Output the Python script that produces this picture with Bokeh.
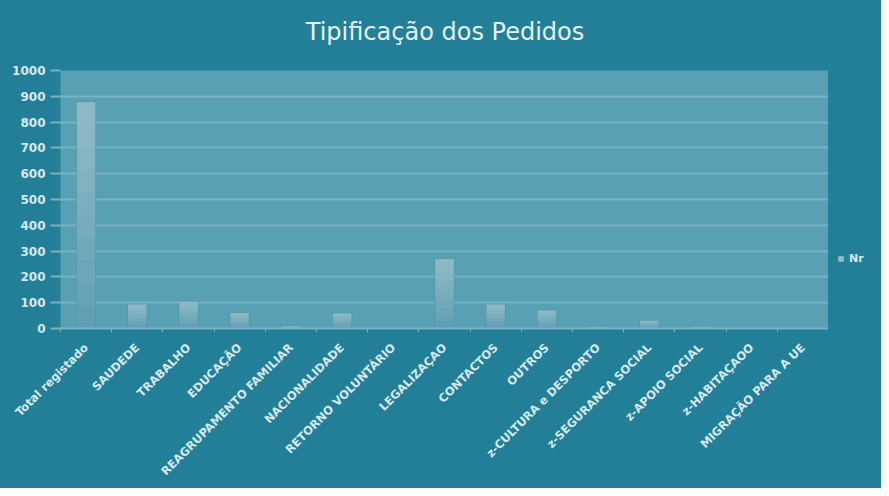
from bokeh.plotting import figure
from bokeh.layouts import row, column
from bokeh.models import Range1d, FixedTicker, Legend, LegendItem, ColumnDataSource, Label
from bokeh.embed import file_html
from bokeh.resources import INLINE

title_text = "Tipificação dos Pedidos"
categories = ["Total registado", "SAUDEDE", "TRABALHO", "EDUCAÇÃO", "REAGRUPAMENTO FAMILIAR",
              "NACIONALIDADE", "RETORNO VOLUNTÁRIO", "LEGALIZAÇAO", "CONTACTOS", "OUTROS",
              "z-CULTURA e DESPORTO", "z-SEGURANCA SOCIAL", "z-APOIO SOCIAL", "z-HABITAÇAOO",
              "MIGRAÇÃO PARA A UE"]
values = [878, 94, 105, 61, 10, 59, 0, 269, 94, 71, 8, 31, 8, 0, 0]
y_ticks = [0, 100, 200, 300, 400, 500, 600, 700, 800, 900, 1000]
series_name = "Nr"

OUTER = "#237f97"
PLOT_BG = "#58a0b3"
GRID = "#77b3c3"
TXT = "#d6e9ee"
BAR = "#5b9db0"
BAR_LINE = "#4f91a5"
FONT = "DejaVu Sans"

n = len(categories)
centers = [i + 0.5 for i in range(n)]
bounds = [float(i) for i in range(n + 1)]


def bare(fig):
    fig.background_fill_color = OUTER
    fig.border_fill_color = OUTER
    fig.outline_line_color = None
    fig.xgrid.visible = False
    fig.ygrid.visible = False


# title strip
t = figure(width=881, height=62, output_backend="svg", toolbar_location=None,
           x_range=Range1d(0, 1), y_range=Range1d(0, 1),
           x_axis_location=None, y_axis_location=None, min_border=0)
bare(t)
t.add_layout(Label(x=0.5, y=0.5, x_offset=4, y_offset=0, text=title_text,
                   text_align="center", text_baseline="middle",
                   text_font=FONT, text_font_size="24px", text_color="#e6f1f4"))

# main chart
p = figure(frame_width=768, frame_height=258, output_backend="svg", toolbar_location=None,
           x_range=Range1d(0, n), y_range=Range1d(0, 1000),
           min_border_left=60, min_border_right=0, min_border_top=8, min_border_bottom=160)
p.background_fill_color = PLOT_BG
p.border_fill_color = OUTER
p.outline_line_color = None

src = ColumnDataSource(dict(x=centers, top=values))
p.vbar(x="x", top="top", width=0.37, source=src, fill_color=BAR,
       line_color=BAR_LINE, line_alpha=0.6)
layers = 10
for i in range(layers):
    frac = i / layers
    p.vbar(x=centers, bottom=[v * frac for v in values], top=values, width=0.37,
           fill_color="white", fill_alpha=0.04, line_color=None)

xa = p.xaxis[0]
xa.ticker = FixedTicker(ticks=centers, minor_ticks=bounds)
xa.major_label_overrides = {c: lab for c, lab in zip(centers, categories)}
xa.major_label_orientation = 0.785398
xa.major_tick_line_color = None
xa.minor_tick_line_color = GRID
xa.minor_tick_in = 0
xa.minor_tick_out = 4
xa.axis_line_color = GRID
xa.axis_line_width = 2
xa.major_label_text_color = TXT
xa.major_label_text_font = FONT
xa.major_label_text_font_size = "11.5px"
xa.major_label_text_font_style = "bold"
xa.major_label_standoff = 11

ya = p.yaxis[0]
ya.ticker = FixedTicker(ticks=y_ticks, minor_ticks=[])
ya.axis_line_color = None
ya.major_tick_line_color = GRID
ya.major_tick_line_width = 2
ya.major_tick_in = 0
ya.major_tick_out = 10
ya.major_label_standoff = 5
ya.major_label_text_color = TXT
ya.major_label_text_font = FONT
ya.major_label_text_font_size = "12px"
ya.major_label_text_font_style = "bold"

p.xgrid.grid_line_color = None
p.ygrid.grid_line_color = GRID
p.ygrid.grid_line_width = 2
p.ygrid.ticker = FixedTicker(ticks=y_ticks)

# legend strip (its frame is aligned with the main plot's frame by the row layout)
q = figure(width=53, height=426, output_backend="svg", toolbar_location=None,
           x_range=Range1d(0, 1), y_range=Range1d(0, 1),
           x_axis_location=None, y_axis_location=None, min_border=0)
bare(q)
# zero-height proxy bar: only used to draw the legend swatch
proxy = q.vbar(x=[0.5], top=[0], width=0.37, fill_color="#8dbfcc", line_color=None)
legend = Legend(items=[LegendItem(label=series_name, renderers=[proxy])], location=(9, 63),
                background_fill_alpha=0, border_line_color=None, padding=0, margin=0,
                glyph_width=7, glyph_height=7, label_standoff=5,
                label_text_color=TXT, label_text_font=FONT, label_text_font_size="11px",
                label_text_font_style="bold")
q.add_layout(legend)

layout = column(t, row(p, q, spacing=0, styles={"background-color": OUTER}),
                spacing=0, styles={"background-color": OUTER})
open("out.html", "w").write(file_html(layout, INLINE))
